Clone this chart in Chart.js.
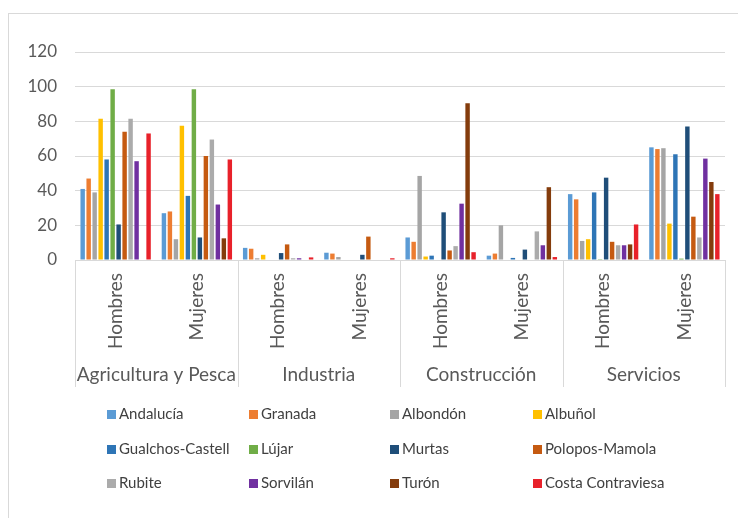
<!DOCTYPE html>
<html>
<head>
<meta charset="utf-8">
<script src="https://cdn.jsdelivr.net/npm/chart.js@4/dist/chart.umd.min.js"></script>
<style>
  html, body { margin: 0; padding: 0; background: #fff; }
  #wrap { position: absolute; left: 0; top: 0; width: 738px; height: 518px; overflow: hidden; }
  #frame { position: absolute; left: 8px; top: 13px; width: 760px; height: 540px; border: 1px solid #D9D9D9; box-sizing: border-box; }
  canvas { position: absolute; left: 0; top: 0; }
  .lg { position: absolute; font-family: Lato, sans-serif; font-size: 15px; color: #404040; white-space: nowrap; line-height: 18px; }
  .lg span.sw { display: inline-block; width: 9px; height: 9px; margin-right: 3px; vertical-align: 0px; }
</style>
</head>
<body>
<div id="wrap">
  <div id="frame"></div>
  <canvas id="c" width="738" height="518"></canvas>
</div>
<script>
// ---- Data ----
const sectors = ['Agricultura y Pesca', 'Industria', 'Construcción', 'Servicios'];
const genders = ['Hombres', 'Mujeres'];
const yTicks = [0, 20, 40, 60, 80, 100, 120];

const seriesNames = ['Andalucía', 'Granada', 'Albondón', 'Albuñol', 'Gualchos-Castell', 'Lújar',
                     'Murtas', 'Polopos-Mamola', 'Rubite', 'Sorvilán', 'Turón', 'Costa Contraviesa'];
const seriesColors = ['#5B9BD5', '#ED7D31', '#A5A5A5', '#FFC000', '#2E75B6', '#70AD47',
                      '#1F4E79', '#C55A11', '#ABABAB', '#7030A0', '#843C0C', '#E8212A'];

// order: AgriH, AgriM, IndH, IndM, ConH, ConM, SerH, SerM
const andalucia = [41, 27, 7, 4.2, 13, 2.5, 38, 65];
const granada   = [47, 28, 6.5, 3.7, 10.5, 3.7, 35, 64];
const albondon  = [39, 12, 1, 1.7, 48.5, 20, 11, 64.5];
const albunol   = [81.5, 77.5, 3, 0, 2, 0, 12, 21];
const gualchos  = [58, 37, 0, 0, 2.5, 1.2, 39, 61];
const lujar     = [98.5, 98.5, 0, 0, 0, 0, 0.5, 0.8];
const murtas    = [20.5, 13, 4, 3, 27.5, 6, 47.5, 77];
const polopos   = [74, 60, 9, 13.5, 5.5, 0, 10.5, 25];
const rubite    = [81.5, 69.5, 1, 0, 8, 16.5, 8.5, 13];
const sorvilan  = [57, 32, 1, 0, 32.5, 8.5, 8.5, 58.5];
const turon     = [0, 12.5, 0, 0, 90.5, 42, 9, 45];
const costa     = [73, 58, 1.5, 1, 4.5, 1.7, 20.5, 38];

const seriesValues = [andalucia, granada, albondon, albunol, gualchos, lujar,
                      murtas, polopos, rubite, sorvilan, turon, costa];

// ---- Build ----
const labels = [];
sectors.forEach(() => genders.forEach(g => labels.push(g)));

const datasets = seriesNames.map((n, i) => ({
  label: n,
  data: seriesValues[i],
  backgroundColor: seriesColors[i],
  borderWidth: 0,
  barPercentage: 0.74,
  categoryPercentage: 0.885
}));

const FONT = 'Lato, sans-serif';
const TXT = '#595959';
const GRID = '#D9D9D9';

const groupPlugin = {
  id: 'groups',
  afterDraw(chart) {
    const x = chart.scales.x;
    const ctx = chart.ctx;
    const top = chart.chartArea.bottom;
    const bottom = top + 127;
    const n = labels.length;
    const bounds = [];
    for (let i = 0; i <= n; i++) {
      let px;
      if (i === 0) px = x.left;
      else if (i === n) px = x.right;
      else px = (x.getPixelForTick(i - 1) + x.getPixelForTick(i)) / 2;
      bounds.push(px);
    }
    ctx.save();
    ctx.strokeStyle = GRID;
    ctx.lineWidth = 1;
    for (let s = 0; s <= sectors.length; s++) {
      const px = Math.round(bounds[s * genders.length]) + 0.5;
      ctx.beginPath();
      ctx.moveTo(px, top);
      ctx.lineTo(px, bottom);
      ctx.stroke();
    }
    ctx.fillStyle = TXT;
    ctx.font = '19px ' + FONT;
    ctx.textAlign = 'center';
    ctx.textBaseline = 'middle';
    sectors.forEach((s, k) => {
      const cx = (bounds[k * genders.length] + bounds[(k + 1) * genders.length]) / 2;
      ctx.fillText(s, cx, 375);
    });
    ctx.restore();
  }
};

new Chart(document.getElementById('c'), {
  type: 'bar',
  data: { labels, datasets },
  options: {
    responsive: false,
    animation: false,
    events: [],
    layout: { padding: { left: 0, right: 13, top: 52, bottom: 131 } },
    plugins: { legend: { display: false }, tooltip: { enabled: false } },
    scales: {
      x: {
        grid: { display: false, drawTicks: false, tickLength: 0 },
        border: { display: false },
        ticks: { autoSkip: false, minRotation: 90, maxRotation: 90, padding: 13, color: TXT,
                 font: { family: FONT, size: 19 } },
        afterFit(s) { s.height = 127; }
      },
      y: {
        min: 0, max: 120,
        afterBuildTicks(s) { s.ticks = yTicks.map(v => ({ value: v })); },
        grid: { color: GRID, drawTicks: false, tickLength: 0 },
        border: { display: false },
        ticks: { padding: 18, color: TXT, font: { family: FONT, size: 17 } },
        afterFit(s) { s.width = 75; }
      }
    }
  },
  plugins: [groupPlugin]
});

// ---- Legend (HTML) ----
const legCols = [107, 249, 390, 533];
const legRows = [413, 448, 482];
const wrap = document.getElementById('wrap');
seriesNames.forEach((n, i) => {
  const d = document.createElement('div');
  d.className = 'lg';
  d.style.left = legCols[i % 4] + 'px';
  d.style.top = (legRows[Math.floor(i / 4)] - 9) + 'px';
  const sw = document.createElement('span');
  sw.className = 'sw';
  sw.style.background = seriesColors[i];
  d.appendChild(sw);
  d.appendChild(document.createTextNode(n));
  wrap.appendChild(d);
});
</script>
</body>
</html>
